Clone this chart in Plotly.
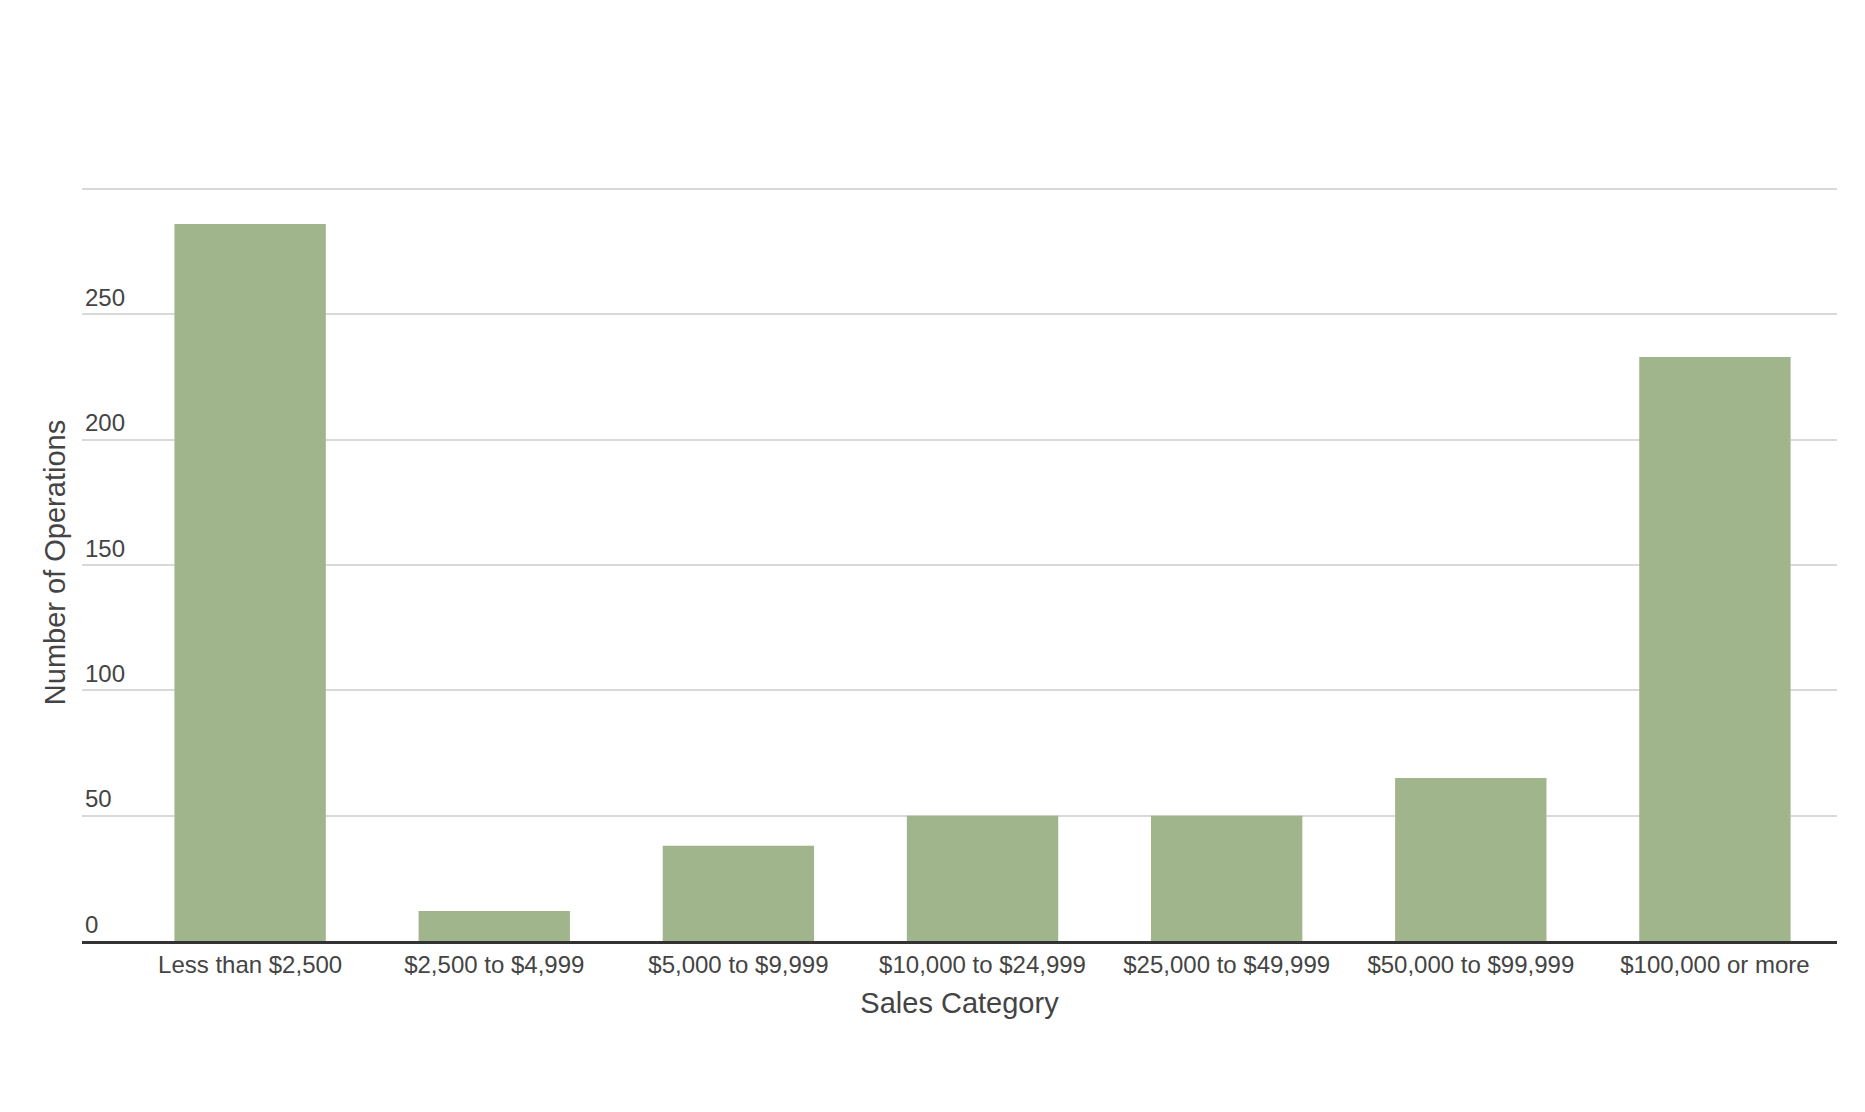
import plotly.graph_objects as go

categories = ["Less than $2,500", "$2,500 to $4,999", "$5,000 to $9,999", "$10,000 to $24,999",
              "$25,000 to $49,999", "$50,000 to $99,999", "$100,000 or more"]
operations = [286, 12, 38, 50, 50, 65, 233]
y_ticks = [0, 50, 100, 150, 200, 250, 300]

fig = go.Figure(go.Bar(x=categories, y=operations, marker_color="#a0b58c", marker_line_width=0))
fig.update_layout(
    width=1865, height=1112, paper_bgcolor="white", plot_bgcolor="white",
    margin=dict(l=74, r=36, t=176, b=179),
    bargap=0.38, showlegend=False,
    font=dict(family="Arial, Liberation Sans", size=24, color="#444444"),
)
fig.update_xaxes(title_text="Sales Category", title_standoff=16, showline=True, linecolor="#333333",
                 linewidth=3, ticks="", showgrid=False)
fig.update_yaxes(title_text="Number of Operations", title_standoff=10, range=[0, 302], tickvals=y_ticks,
                 ticklabelposition="inside top", showgrid=True, gridcolor="#d9d9d9", gridwidth=1.5,
                 zeroline=False, ticks="")
fig.write_html("out.html")
